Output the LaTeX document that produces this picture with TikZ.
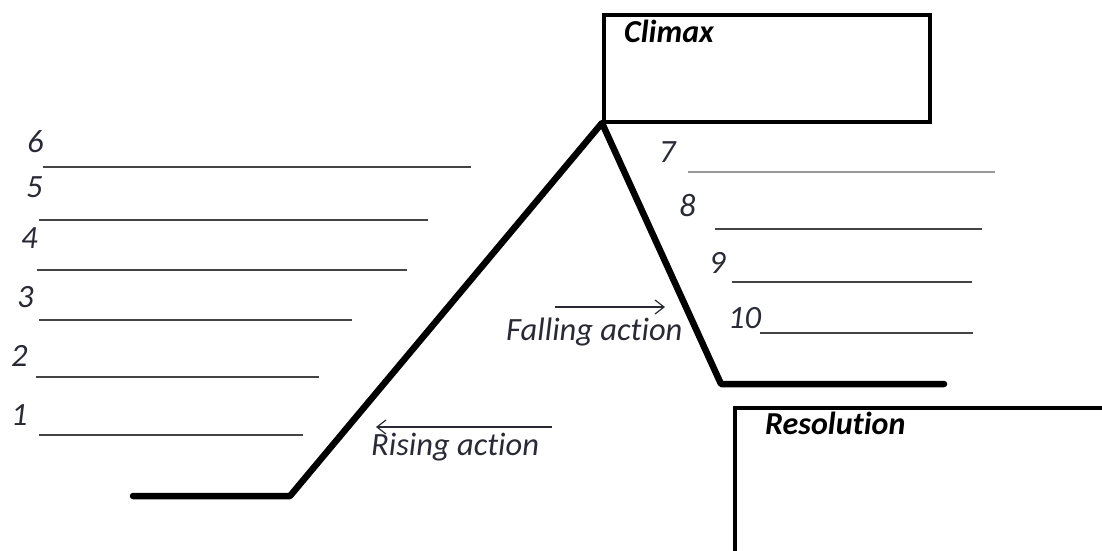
\documentclass[tikz,border=0pt]{standalone}
\usepackage{fontspec}
\setmainfont{Carlito}[Ligatures=CommonOff]
\usetikzlibrary{arrows.meta}
\definecolor{inkgray}{HTML}{2A2A36}
\definecolor{rulegray}{HTML}{444444}
\definecolor{lightrule}{HTML}{999999}
\begin{document}
\begin{tikzpicture}[x=1pt,y=1pt,
  plotline/.style={line width=6.5pt,line cap=round,line join=round},
  framebox/.style={line width=4pt},
  blank/.style={line width=1.8pt,rulegray},
  numlabel/.style={inner sep=0pt,anchor=base west,inkgray,font=\fontsize{32.5}{38}\selectfont\itshape},
  actlabel/.style={inner sep=0pt,anchor=base west,inkgray,font=\fontsize{32.5}{38}\selectfont\itshape},
  boxtitle/.style={inner sep=0pt,anchor=base west,black,font=\fontsize{32}{38}\selectfont\bfseries\itshape},
  pointer/.style={line width=1.2pt,inkgray,-{Straight Barb[length=9pt,width=14pt]}}]
\useasboundingbox (0,0) rectangle (1102,-550);

% plot line: exposition, rising action, climax, falling action, resolution
\coordinate (start) at (133,-496);
\coordinate (rise) at (290,-496);
\coordinate (peak) at (602,-123);
\coordinate (fall) at (721,-384);
\coordinate (finish) at (944,-384);
\draw[plotline] (start) -- (rise) -- (peak) -- (fall) -- (finish);

% climax box
\draw[framebox] (604,-15) rectangle (930,-122);
\node[boxtitle] (climax) at (624,-42) {Climax};

% resolution box, running off the page
\draw[framebox] (735,-552) -- (735,-408) -- (1104,-408);
\node[boxtitle] (resolution) at (765,-434) {Resolution};

% numbered blanks on the rising side
\foreach \n/\nx/\ny/\lx/\ly/\rx in {
  6/27/152/43/167/471,
  5/26/197/39/220/428,
  4/21/248/37/270/407,
  3/17/307/39/320/352,
  2/11/366/36/377/319,
  1/11/425/39/435/303} {
  \node[numlabel] (num\n) at (\nx,-\ny) {\n};
  \draw[blank] (\lx,-\ly) -- (\rx,-\ly);
}

% numbered blanks on the falling side
\node[numlabel] (num7) at (659,-162) {7};
\draw[blank,lightrule] (688,-172) -- (995,-172);
\foreach \n/\nx/\ny/\lx/\ly/\rx in {
  8/679/216/715/229/982,
  9/709/273/732/282/972,
  10/728/328/760/333/973} {
  \node[numlabel] (num\n) at (\nx,-\ny) {\n};
  \draw[blank] (\lx,-\ly) -- (\rx,-\ly);
}

% action labels with their arrows
\node[actlabel] (falling) at (506,-340) {Falling action};
\coordinate (fa0) at (555,-307);
\coordinate (fa1) at (665,-307);
\draw[pointer] (fa0) -- (fa1);

\node[actlabel] (rising) at (371,-455) {Rising action};
\coordinate (ra0) at (552,-427);
\coordinate (ra1) at (376,-427);
\draw[pointer] (ra0) -- (ra1);
\end{tikzpicture}
\end{document}
